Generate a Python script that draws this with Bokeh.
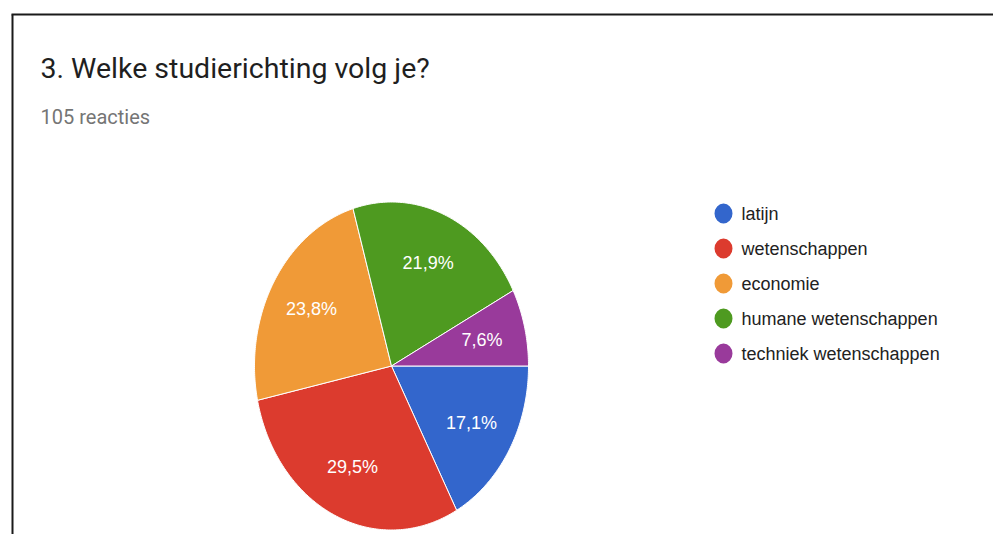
import numpy as np
from bokeh.plotting import figure
from bokeh.models import Range1d
from bokeh.core.properties import value
from bokeh.embed import file_html
from bokeh.resources import INLINE

# ---- data ----
title_text = "3. Welke studierichting volg je?"
subtitle_text = "105 reacties"
categories = ["latijn", "wetenschappen", "economie", "humane wetenschappen", "techniek wetenschappen"]
percentages = [17.1, 29.5, 23.8, 21.9, 7.6]
colors = ["#3366CC", "#DC3B2E", "#F09A37", "#4E9A20", "#993A9B"]

# ---- layout ----
W, H = 993, 534
CX, CY = 391.0, 365.5
RX, RY = 137.0, 164.0
LABEL_R = 0.68

p = figure(width=W, height=H, output_backend="svg", toolbar_location=None,
           x_range=Range1d(0, W), y_range=Range1d(H, 0),
           min_border=0, min_border_left=0, min_border_right=0,
           min_border_top=0, min_border_bottom=0)
p.axis.visible = False
p.grid.visible = False
p.outline_line_color = None
p.background_fill_color = "white"
p.border_fill_color = "white"

# frame lines (screenshot border)
p.line(x=[11, W], y=[14, 14], line_color="#1a1a1a", line_width=2)
p.line(x=[12, 12], y=[14, H], line_color="#1a1a1a", line_width=2)

# title + subtitle
p.text(x=[40], y=[68], text=[title_text], text_font=value("Roboto"),
       text_font_size="28.5px", text_color="#1f1f1f", text_baseline="alphabetic",
       text_align="left")
p.text(x=[40], y=[116], text=[subtitle_text], text_font=value("Roboto"),
       text_font_size="20px", text_color="#757575", text_baseline="alphabetic",
       text_align="left")

# pie slices (clockwise from 3 o'clock)
total = sum(percentages)
fracs = np.array(percentages) / total
ends = np.cumsum(fracs) * 2 * np.pi
starts = ends - fracs * 2 * np.pi
xs, ys, lx, ly, labels = [], [], [], [], []
for s, e, v in zip(starts, ends, percentages):
    t = np.linspace(s, e, max(int((e - s) * 80), 4))
    xs.append(list(np.concatenate([[CX], CX + RX * np.cos(t), [CX]])))
    ys.append(list(np.concatenate([[CY], CY + RY * np.sin(t), [CY]])))
    m = (s + e) / 2
    lx.append(CX + LABEL_R * RX * np.cos(m))
    ly.append(CY + LABEL_R * RY * np.sin(m))
    labels.append(f"{v:.1f}".replace(".", ",") + "%")

p.patches(xs=xs, ys=ys, fill_color=colors, line_color="white", line_width=1)
p.text(x=lx, y=ly, text=labels, text_font=value("Liberation Sans"),
       text_font_size="18px", text_color="white", text_align="center",
       text_baseline="middle")

# legend
LEG_X, LEG_Y0, LEG_DY = 723, 213, 35
leg_y = [LEG_Y0 + i * LEG_DY for i in range(len(categories))]
p.ellipse(x=[LEG_X] * len(categories), y=leg_y, width=18, height=20,
          width_units="screen", height_units="screen",
          fill_color=colors, line_color=None)
p.text(x=[LEG_X + 18] * len(categories), y=leg_y, text=categories,
       text_font=value("Liberation Sans"), text_font_size="18px",
       text_color="#222222", text_align="left", text_baseline="middle")

open("out.html", "w").write(file_html(p, INLINE))
